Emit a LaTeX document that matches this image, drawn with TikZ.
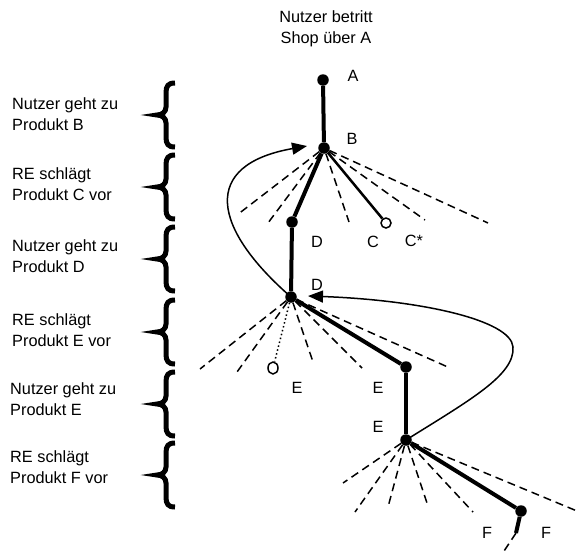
\documentclass[tikz,border=0pt]{standalone}
\usepackage{fontspec}
\setmainfont{Liberation Sans}
\usetikzlibrary{arrows.meta,shapes.geometric}
\begin{document}
\begin{tikzpicture}[x=1pt,y=-1pt,
  every node/.style={font=\fontsize{16.3}{21.5}\selectfont},
  dot/.style={circle,fill=black,inner sep=0pt,minimum size=11.5pt},
  hollow/.style={circle,draw=black,line width=1.5pt,fill=white,inner sep=0pt,minimum size=10pt},
  hollowtall/.style={ellipse,draw=black,line width=1.5pt,inner sep=0pt,minimum width=10pt,minimum height=12pt},
  taken/.style={line width=4pt},
  altline/.style={line width=2.5pt},
  suggestion/.style={line width=1.5pt,dash pattern=on 8pt off 5pt},
  weakline/.style={line width=1.5pt,dash pattern=on 1.5pt off 2.5pt},
  jump/.style={line width=1.5pt,-{Triangle[length=15pt,width=12pt]}},
  lbl/.style={inner sep=0pt},
  steplabel/.style={anchor=west,align=left,inner sep=0pt},
  lbrace/.pic={\draw[line width=5pt,line cap=butt]
    (9,-32) .. controls (2,-32) and (0,-29) .. (0,-22) -- (0,-8)
    .. controls (0,-3) and (-4,0) .. (-9,0)
    .. controls (-4,0) and (0,3) .. (0,8) -- (0,22)
    .. controls (0,29) and (2,32) .. (9,32);}
]
\useasboundingbox (0,0) rectangle (577,554);

% heading
\node[align=center,inner sep=0pt] (head) at (326,29) {Nutzer betritt\\Shop über A};

% step descriptions and braces
\node[steplabel] (s1) at (12,114) {Nutzer geht zu\\Produkt B};
\node[steplabel] (s2) at (12,184) {RE schlägt\\Produkt C vor};
\node[steplabel] (s3) at (12,256) {Nutzer geht zu\\Produkt D};
\node[steplabel] (s4) at (12,330) {RE schlägt\\Produkt E vor};
\node[steplabel] (s5) at (10,399) {Nutzer geht zu\\Produkt E};
\node[steplabel] (s6) at (10,467) {RE schlägt\\Produkt F vor};
\pic at (166,115) {lbrace};
\pic at (166,187) {lbrace};
\pic at (166,259) {lbrace};
\pic at (166,332) {lbrace};
\pic at (166,404) {lbrace};
\pic at (166,475) {lbrace};

% product nodes
\node[dot] (A) at (323,80) {};
\node[dot] (B) at (324,148) {};
\node[dot] (D1) at (292,222) {};
\node[hollow] (C) at (386,223) {};
\node[dot] (D2) at (291,297) {};
\node[hollowtall] (O) at (273,368) {};
\node[dot] (E1) at (406,367) {};
\node[dot] (E2) at (406,440) {};
\node[dot] (F) at (521,511) {};

% node labels
\node[lbl] (lA) at (353,76) {A};
\node[lbl] (lB) at (352,139) {B};
\node[lbl] (lD1) at (317,242) {D};
\node[lbl] (lC) at (373,242) {C};
\node[lbl] (lCs) at (414,241) {C*};
\node[lbl] (lD2) at (317,285) {D};
\node[lbl] (lE1) at (297,388) {E};
\node[lbl] (lE2) at (378,388) {E};
\node[lbl] (lE3) at (378,427) {E};
\node[lbl] (lF1) at (487,533) {F};
\node[lbl] (lF2) at (546,533) {F};

% end points of the suggested alternatives
\coordinate (b1) at (237,215);
\coordinate (b2) at (268,223);
\coordinate (b3) at (349,222);
\coordinate (b4) at (425,220);
\coordinate (b5) at (488,223);
\coordinate (d1) at (200,369);
\coordinate (d2) at (237,372);
\coordinate (d3) at (313,362);
\coordinate (d4) at (362,368);
\coordinate (d5) at (450,368);
\coordinate (e1) at (343,483);
\coordinate (e2) at (355,512);
\coordinate (e3) at (388,507);
\coordinate (e4) at (428,506);
\coordinate (e5) at (473,512);
\coordinate (e6) at (577,511);
\coordinate (f1) at (516,533);
\coordinate (f2) at (502,554);

% alternatives
\foreach \t in {b1,b2,b3,b4,b5} \draw[suggestion] (B) -- (\t);
\foreach \t in {d1,d2,d3,d4,d5} \draw[suggestion] (D2) -- (\t);
\foreach \t in {e1,e2,e3,e4,e5,e6} \draw[suggestion] (E2) -- (\t);
\draw[weakline] (D2) -- (O);
\draw[altline] (B) -- (C);

% path taken by the user
\draw[taken] (A) -- (B);
\draw[taken] (B) -- (D1);
\draw[taken] (D1) -- (D2);
\draw[taken] (D2) -- (E1);
\draw[taken] (E1) -- (E2);
\draw[taken] (E2) -- (F);
\draw[taken] (F) -- (f1);
\draw[suggestion] (f1) -- (f2);

% jumps back
\draw[jump] (D2.center) .. controls (212,228) and (200,165) .. ([xshift=-17pt,yshift=2pt]B.center);
\draw[jump] (E2.center) .. controls (470,400) and (515,375) .. (513,347)
  .. controls (511,320) and (420,300) .. ([xshift=17pt,yshift=1pt]D2.center);
\end{tikzpicture}
\end{document}
